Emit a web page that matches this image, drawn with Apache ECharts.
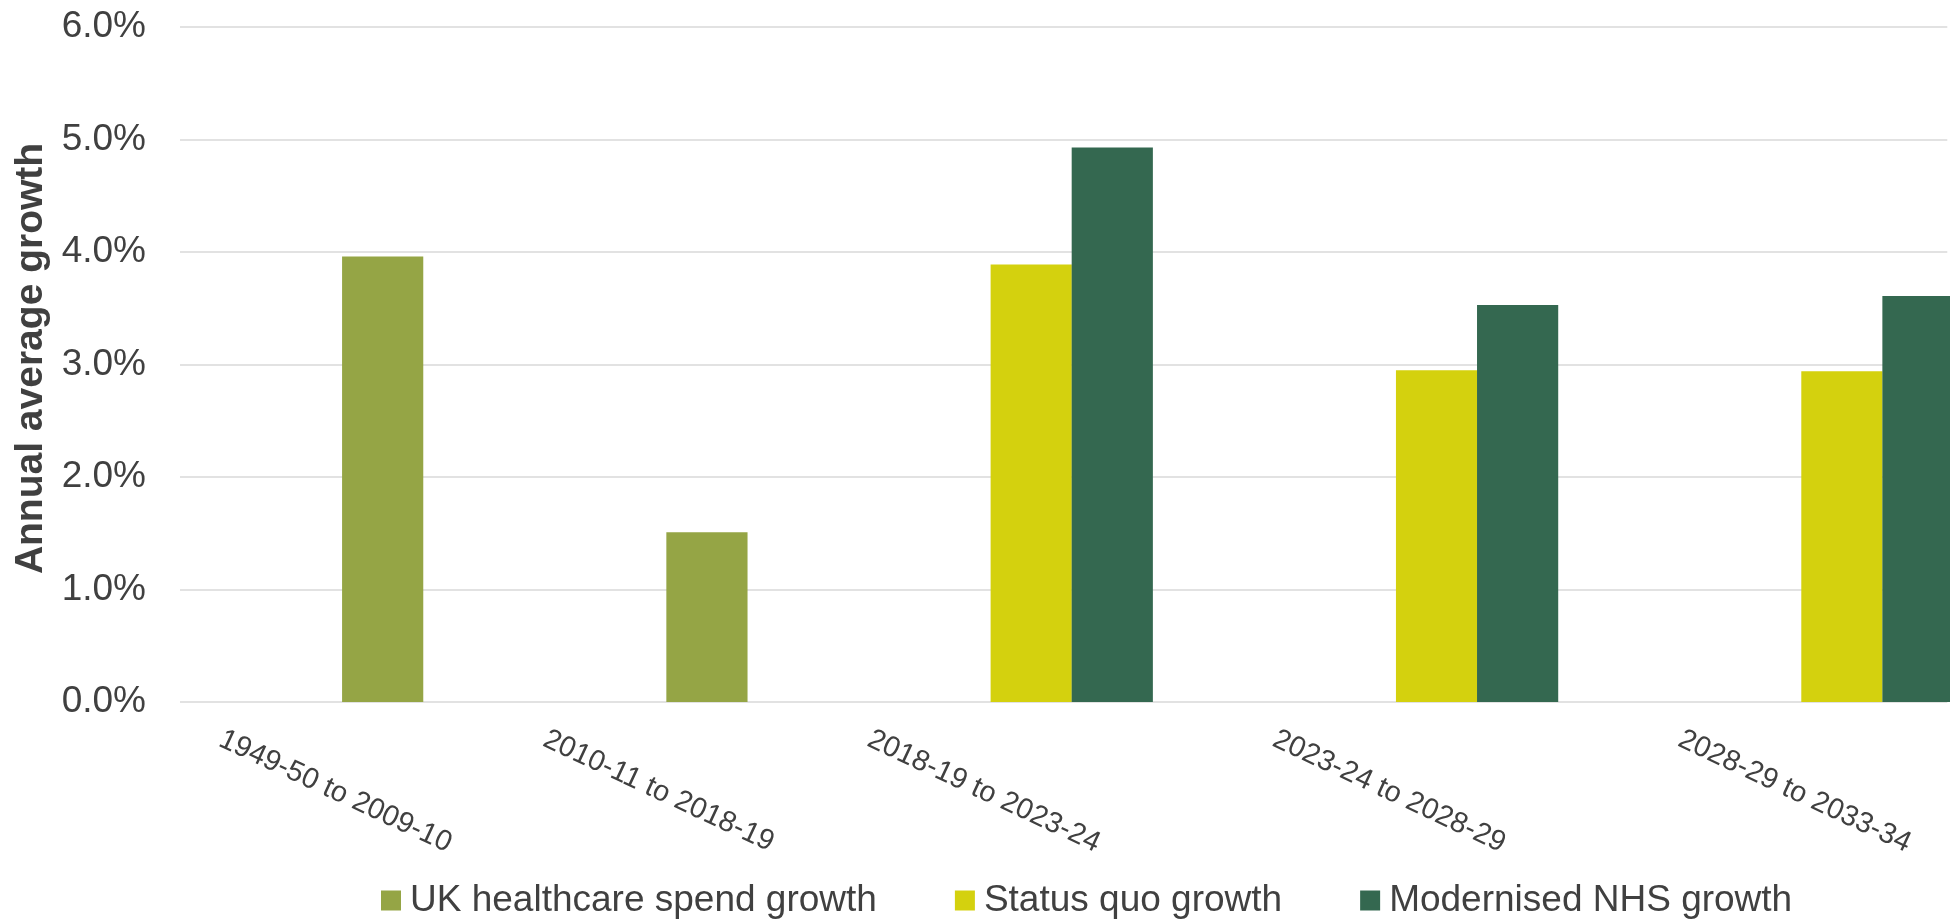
<!DOCTYPE html>
<html>
<head>
<meta charset="utf-8">
<title>Annual average growth in healthcare spending</title>
<script src="https://cdn.jsdelivr.net/npm/echarts@6/dist/echarts.min.js"></script>
<style>
  html, body { margin: 0; padding: 0; background: #ffffff; }
  #chart { width: 1950px; height: 921px; }
</style>
</head>
<body>
<div id="chart"></div>
<script>
// Periods shown along the x axis
const periods = [
  '1949-50 to 2009-10',
  '2010-11 to 2018-19',
  '2018-19 to 2023-24',
  '2023-24 to 2028-29',
  '2028-29 to 2033-34'
];

// Annual average growth, % per year (null = no bar for that period)
const ukHealthcareSpend = [3.96, 1.51, null, null, null];
const statusQuo         = [null, null, 3.89, 2.95, 2.94];
const modernisedNhs     = [null, null, 4.93, 3.53, 3.61];

const seriesNames = ['UK healthcare spend growth', 'Status quo growth', 'Modernised NHS growth'];

// y axis ticks
const yMin = 0, yMax = 6, yStep = 1;

// ---- layout ----
// The horizontal axis is a run of equal-width slots; each period's label sits
// in its own slot and the period's bars follow two slots further along.
const labelSlot = [0, 4, 8, 13, 18];
const barOffset = [2, 2, 3];          // slot offset of each series from its label
const gridLeft = 180, gridRight = 0, gridTop = 27, gridBottom = 219;
const xMin = 0, xMax = 21.8;
const W = 1950;
const slotPx = (W - gridLeft - gridRight) / (xMax - xMin);

const FONT = "'Liberation Sans', Arial, Helvetica, sans-serif";
const TEXT = '#404040';
const colors = ['#95A545', '#D4D10E', '#346850'];

function toPoints(values, s) {
  return values.map((v, i) => v == null ? null : [labelSlot[i] + barOffset[s] + 0.5, v]);
}

const labelAt = {};
labelSlot.forEach((s, i) => { labelAt[(s + 0.5).toFixed(1)] = periods[i]; });

const chart = echarts.init(document.getElementById('chart'), null, { renderer: 'canvas' });

chart.setOption({
  animation: false,
  backgroundColor: '#ffffff',
  textStyle: { fontFamily: FONT, color: TEXT },
  grid: { left: gridLeft, right: gridRight, top: gridTop, bottom: gridBottom, containLabel: false },
  legend: {
    data: seriesNames,
    left: 381,
    top: 882,
    padding: 0,
    itemGap: 78,
    itemWidth: 20,
    itemHeight: 20,
    icon: 'rect',
    textStyle: { fontFamily: FONT, fontSize: 37, color: TEXT, padding: [0, 0, 0, 4] }
  },
  xAxis: {
    type: 'value',
    min: xMin,
    max: xMax,
    interval: 0.5,
    axisLine: { show: false },
    axisTick: { show: false },
    splitLine: { show: false },
    axisLabel: {
      rotate: -25,
      margin: 36,
      fontSize: 29,
      fontFamily: FONT,
      color: TEXT,
      showMinLabel: true,
      showMaxLabel: true,
      formatter: v => labelAt[Number(v).toFixed(1)] || ''
    }
  },
  yAxis: {
    type: 'value',
    min: yMin,
    max: yMax,
    interval: yStep,
    name: 'Annual average growth',
    nameLocation: 'middle',
    nameGap: 120,
    nameTextStyle: {
      fontFamily: FONT, fontSize: 39, fontWeight: 'bold', color: TEXT,
      padding: [0, 0, 0, 12]
    },
    axisLine: { show: false },
    axisTick: { show: false },
    axisLabel: {
      margin: 34,
      fontSize: 37,
      fontFamily: FONT,
      color: TEXT,
      formatter: v => v.toFixed(1) + '%'
    },
    splitLine: { lineStyle: { color: '#D9D9D9', width: 1.5 } }
  },
  series: [ukHealthcareSpend, statusQuo, modernisedNhs].map((vals, s) => ({
    name: seriesNames[s],
    type: 'bar',
    data: toPoints(vals, s),
    barWidth: slotPx,
    barGap: '-100%',
    itemStyle: { color: colors[s] },
    emphasis: { disabled: true }
  }))
});
</script>
</body>
</html>
